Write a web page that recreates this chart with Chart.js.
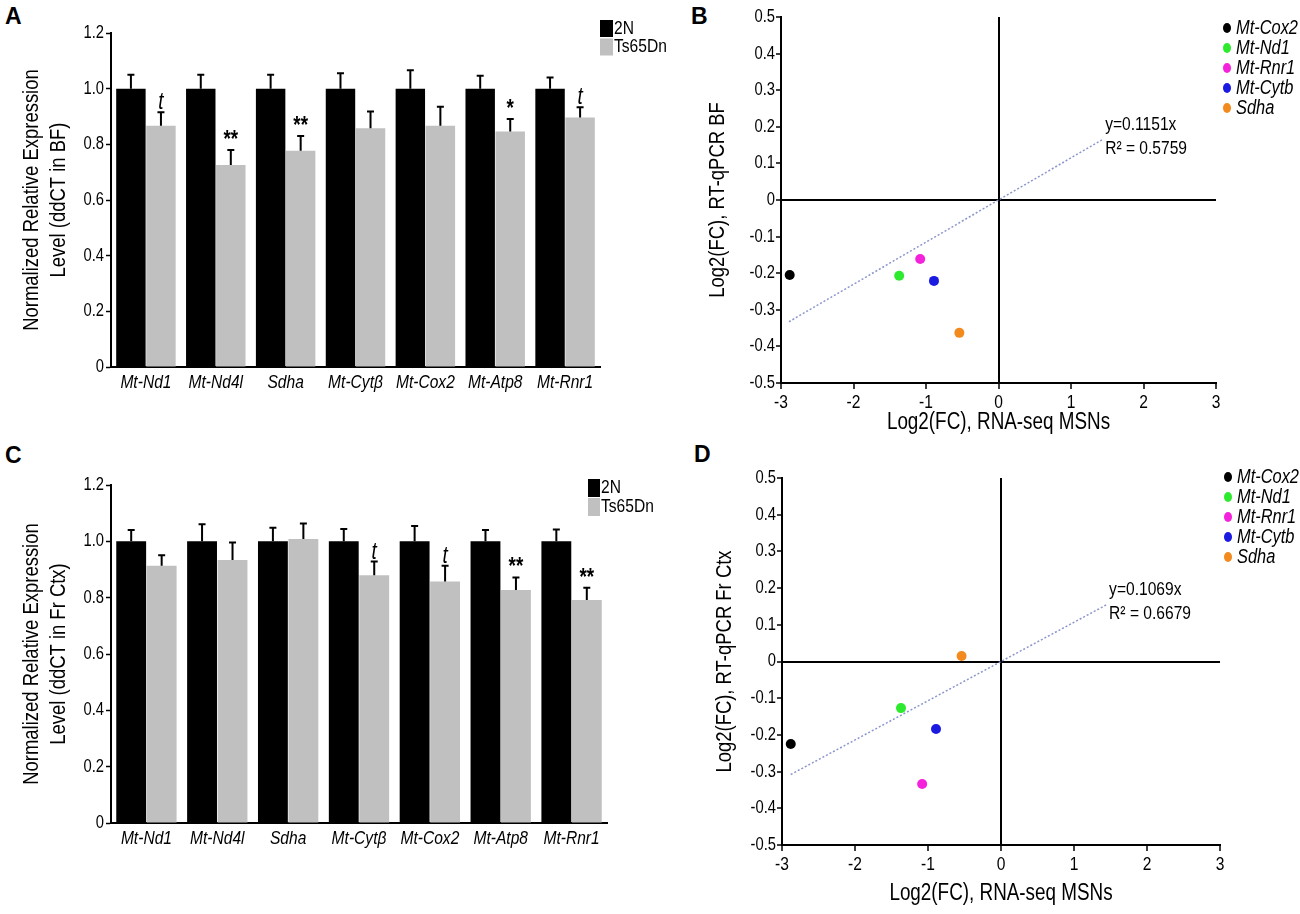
<!DOCTYPE html>
<html>
<head>
<meta charset="utf-8">
<script src="https://cdn.jsdelivr.net/npm/chart.js@4.4.1/dist/chart.umd.min.js"></script>
<style>
  body { margin:0; background:#fff; width:1300px; height:914px; position:relative; overflow:hidden; }
  canvas { position:absolute; }
  .tag { position:absolute; font:bold 23px 'Liberation Sans', Arial, sans-serif; line-height:23px; color:#000; }
</style>
</head>
<body>
<div class="tag" style="left:5px;top:5px">A</div>
<div class="tag" style="left:691px;top:5px">B</div>
<div class="tag" style="left:5px;top:444px">C</div>
<div class="tag" style="left:694px;top:443px">D</div>
<canvas id="chartA" width="690" height="445" style="left:0;top:0;width:690px;height:445px"></canvas>
<canvas id="chartB" width="610" height="445" style="left:690px;top:0;width:610px;height:445px"></canvas>
<canvas id="chartC" width="690" height="445" style="left:0;top:450px;width:690px;height:445px"></canvas>
<canvas id="chartD" width="610" height="464" style="left:690px;top:450px;width:610px;height:464px"></canvas>
<script>
// DATA
const genes = ['Mt-Nd1', 'Mt-Nd4l', 'Sdha', 'Mt-Cytβ', 'Mt-Cox2', 'Mt-Atp8', 'Mt-Rnr1'];
const yTicksBar = [0, 0.2, 0.4, 0.6, 0.8, 1.0, 1.2];

// basal forebrain (A)
const bf2N = [1, 1, 1, 1, 1, 1, 1];
const bf2NErr = [0.05, 0.05, 0.05, 0.055, 0.066, 0.046, 0.04];
const bfTs = [0.867, 0.726, 0.777, 0.858, 0.867, 0.846, 0.896];
const bfTsErr = [0.048, 0.054, 0.053, 0.06, 0.068, 0.045, 0.037];
const bfSig = ['t', '**', '**', '', '', '*', 't'];

// frontal cortex (C)
const ctx2N = [1, 1, 1, 1, 1, 1, 1];
const ctx2NErr = [0.04, 0.061, 0.048, 0.044, 0.054, 0.04, 0.042];
const ctxTs = [0.913, 0.934, 1.008, 0.88, 0.857, 0.827, 0.792];
const ctxTsErr = [0.038, 0.062, 0.055, 0.048, 0.056, 0.045, 0.043];
const ctxSig = ['', '', '', 't', 't', '**', '**'];

// log2 fold changes (B, D)
const fcGenes = ['Mt-Cox2', 'Mt-Nd1', 'Mt-Rnr1', 'Mt-Cytb', 'Sdha'];
const fcColors = ['#000000', '#2eea2e', '#f522dc', '#1a1ae0', '#f28a1e'];
const rnaSeqFC = [-2.88, -1.37, -1.08, -0.89, -0.54];
const qpcrBF = [-0.205, -0.207, -0.161, -0.221, -0.363];
const qpcrCtx = [-0.225, -0.127, -0.334, -0.184, 0.015];
const slopeBF = 0.1151, r2BF = 0.5759;
const slopeCtx = 0.1069, r2Ctx = 0.6679;
const trendXBF = [-2.89, 1.43];
const trendXCtx = [-2.88, 1.44];

const FONT = "'Liberation Sans Narrow', 'Arial Narrow', 'Liberation Sans', Arial, sans-serif";
Chart.defaults.font.family = FONT;
Chart.defaults.color = '#000';

// the figure is set in a condensed face that is not installed here,
// so text on the chart canvases is squeezed horizontally instead
const NARROW = 0.82;
function squeeze(canvas) {
  const ctx = canvas.getContext('2d');
  const fill = CanvasRenderingContext2D.prototype.fillText;
  const measure = CanvasRenderingContext2D.prototype.measureText;
  ctx.fillText = function (t, x, y, maxWidth) {
    this.save();
    this.translate(x, y);
    this.scale(NARROW, 1);
    if (maxWidth === undefined) fill.call(this, t, 0, 0);
    else fill.call(this, t, 0, 0, maxWidth / NARROW);
    this.restore();
  };
  ctx.measureText = function (t) {
    const m = measure.call(this, t);
    return {
      width: m.width * NARROW,
      actualBoundingBoxLeft: m.actualBoundingBoxLeft * NARROW,
      actualBoundingBoxRight: m.actualBoundingBoxRight * NARROW,
      actualBoundingBoxAscent: m.actualBoundingBoxAscent,
      actualBoundingBoxDescent: m.actualBoundingBoxDescent
    };
  };
  return canvas;
}

// error bars + significance marks
const errorBars = {
  id: 'errorBars',
  afterDatasetsDraw(chart) {
    const ctx = chart.ctx;
    const y = chart.scales.y;
    chart.data.datasets.forEach((ds, i) => {
      chart.getDatasetMeta(i).data.forEach((bar, j) => {
        const top = y.getPixelForValue(ds.data[j] + ds.errors[j]);
        ctx.save();
        ctx.strokeStyle = '#000';
        ctx.lineWidth = 2;
        ctx.beginPath();
        ctx.moveTo(bar.x, bar.y);
        ctx.lineTo(bar.x, top);
        ctx.moveTo(bar.x - 3.5, top);
        ctx.lineTo(bar.x + 3.5, top);
        ctx.stroke();
        const mark = ds.marks ? ds.marks[j] : '';
        if (mark) {
          ctx.fillStyle = '#000';
          ctx.textAlign = 'center';
          ctx.textBaseline = 'alphabetic';
          ctx.font = mark === 't' ? "italic 23px " + FONT : "bold 23px " + FONT;
          ctx.fillText(mark, bar.x, top - 3);
        }
        ctx.restore();
      });
    });
  }
};

// square legend for the bar charts
const boxLegend = {
  id: 'boxLegend',
  afterDraw(chart, args, o) {
    if (!o || o.x === undefined) return;
    const ctx = chart.ctx;
    ctx.save();
    chart.data.datasets.forEach((ds, i) => {
      const y0 = o.y + i * o.step;
      ctx.fillStyle = ds.backgroundColor;
      ctx.fillRect(o.x, y0, o.w, o.h);
      ctx.fillStyle = '#000';
      ctx.font = "19px " + FONT;
      ctx.textBaseline = 'middle';
      ctx.textAlign = 'left';
      ctx.fillText(ds.label, o.x + o.w + 1, y0 + o.h / 2);
    });
    ctx.restore();
  }
};

// dot legend + trend equation for the scatter charts
const dotLegend = {
  id: 'dotLegend',
  afterDraw(chart, args, o) {
    if (!o || o.x === undefined) return;
    const ctx = chart.ctx;
    const pts = chart.data.datasets[0];
    ctx.save();
    chart.data.labels.forEach((g, i) => {
      const yy = o.y + i * o.step;
      ctx.fillStyle = pts.backgroundColor[i];
      ctx.beginPath();
      ctx.ellipse(o.x, yy, 4, 5, 0, 0, Math.PI * 2);
      ctx.fill();
      ctx.fillStyle = '#000';
      ctx.font = "italic 20px " + FONT;
      ctx.textBaseline = 'middle';
      ctx.fillText(g, o.x + 9, yy);
    });
    const tm = chart.getDatasetMeta(1).data;
    const end = tm[tm.length - 1];
    ctx.font = "19px " + FONT;
    ctx.textBaseline = 'middle';
    ctx.fillText(o.eq[0], end.x + 3, end.y - 15);
    ctx.fillText(o.eq[1], end.x + 3, end.y + 9);
    ctx.restore();
  }
};

function barChart(id, title, d2N, e2N, dTs, eTs, sig, lay) {
  return new Chart(squeeze(document.getElementById(id)), {
    type: 'bar',
    data: {
      labels: genes,
      datasets: [
        { label: '2N', data: d2N, errors: e2N, backgroundColor: '#000000' },
        { label: 'Ts65Dn', data: dTs, errors: eTs, marks: sig, backgroundColor: '#c0c0c0' }
      ]
    },
    options: {
      responsive: false,
      animation: false,
      layout: { padding: { left: 0, top: lay.top, right: lay.right, bottom: 0 } },
      datasets: { bar: { categoryPercentage: 0.86, barPercentage: 0.98 } },
      plugins: {
        legend: { display: false },
        tooltip: { enabled: false },
        boxLegend: lay.legend
      },
      scales: {
        x: {
          grid: { display: false, drawTicks: false },
          border: { color: '#000', width: 2 },
          ticks: { font: { size: 19, style: 'italic' }, padding: 4, maxRotation: 0, autoSkip: false },
          afterFit: s => { s.height = lay.xh; }
        },
        y: {
          min: 0, max: 1.2,
          afterBuildTicks: s => { s.ticks = yTicksBar.map(v => ({ value: v })); },
          ticks: { font: { size: 18 }, padding: 2, callback: v => v === 0 ? '0' : v.toFixed(1) },
          grid: { drawOnChartArea: false, tickLength: 5, tickColor: '#000', tickWidth: 1.5 },
          border: { color: '#000', width: 2 },
          title: { display: true, text: title, font: { size: 22.5 }, padding: { top: 18 } },
          afterFit: s => { s.width = 111; }
        }
      }
    },
    plugins: [errorBars, boxLegend]
  });
}

function fcChart(id, ytitle, qpcr, slope, r2, trendX, lay) {
  const zeroLine = c => (c.tick && c.tick.value === 0) ? '#000' : 'rgba(0,0,0,0)';
  return new Chart(squeeze(document.getElementById(id)), {
    type: 'scatter',
    data: {
      labels: fcGenes,
      datasets: [
        {
          data: rnaSeqFC.map((x, i) => ({ x: x, y: qpcr[i] })),
          backgroundColor: fcColors, borderWidth: 0, pointRadius: 5
        },
        {
          type: 'line',
          data: trendX.map(x => ({ x: x, y: slope * x })),
          borderColor: '#8c96cc', borderWidth: 1.5, borderDash: [2, 2],
          pointRadius: 0, fill: false
        }
      ]
    },
    options: {
      responsive: false,
      animation: false,
      layout: { padding: { left: 0, top: lay.top, right: lay.right, bottom: 0 } },
      plugins: {
        legend: { display: false },
        tooltip: { enabled: false },
        dotLegend: {
          x: lay.lx, y: lay.ly, step: 20,
          eq: ['y=' + slope + 'x', 'R² = ' + r2]
        }
      },
      scales: {
        x: {
          type: 'linear', min: -3, max: 3,
          ticks: { stepSize: 1, font: { size: 19 }, padding: 2 },
          grid: { color: zeroLine, lineWidth: 2, tickLength: 6, tickColor: '#000', tickWidth: 1.5 },
          border: { color: '#000', width: 2 },
          title: { display: true, text: 'Log2(FC), RNA-seq MSNs', font: { size: 23 }, padding: { bottom: lay.tb } },
          afterFit: s => { s.height = lay.xh; }
        },
        y: {
          min: -0.5, max: 0.5,
          ticks: { stepSize: 0.1, font: { size: 18 }, padding: 1,
                   callback: v => Math.abs(v) < 1e-9 ? '0' : v.toFixed(1) },
          grid: { color: zeroLine, lineWidth: 2, tickLength: 5, tickColor: '#000', tickWidth: 1.5 },
          border: { color: '#000', width: 2 },
          title: { display: true, text: ytitle, font: { size: 22.5 }, padding: { top: lay.tp } },
          afterFit: s => { s.width = lay.yw; }
        }
      }
    },
    plugins: [dotLegend]
  });
}

barChart('chartA', ['Normalized Relative Expression', 'Level (ddCT in BF)'],
  bf2N, bf2NErr, bfTs, bfTsErr, bfSig,
  { top: 33, right: 90, xh: 78, legend: { x: 600, y: 20, step: 18.5, w: 13, h: 17 } });

barChart('chartC', ['Normalized Relative Expression', 'Level (ddCT in Fr Ctx)'],
  ctx2N, ctx2NErr, ctxTs, ctxTsErr, ctxSig,
  { top: 35, right: 83, xh: 72, legend: { x: 588, y: 29, step: 19, w: 12, h: 18 } });

fcChart('chartB', 'Log2(FC), RT-qPCR BF', qpcrBF, slopeBF, r2BF, trendXBF,
  { top: 17, right: 84, xh: 62, yw: 91, tb: 9, tp: 14, lx: 537, ly: 28 });

fcChart('chartD', 'Log2(FC), RT-qPCR Fr Ctx', qpcrCtx, slopeCtx, r2Ctx, trendXCtx,
  { top: 28, right: 80, xh: 69, yw: 92, tb: 7, tp: 21, lx: 538, ly: 27 });
</script>
</body>
</html>
